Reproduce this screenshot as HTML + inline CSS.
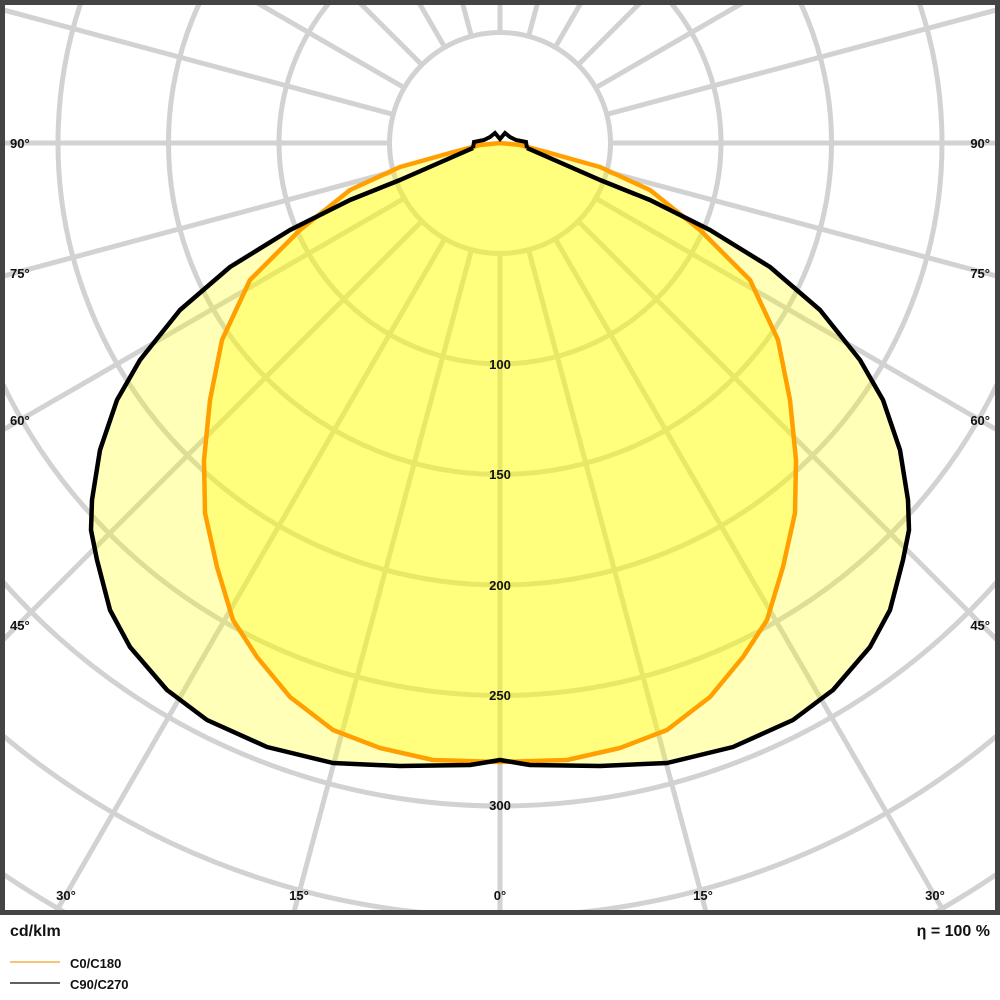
<!DOCTYPE html>
<html><head><meta charset="utf-8"><style>
html,body{margin:0;padding:0;background:#fff;width:1000px;height:1000px;overflow:hidden;}
svg{display:block;}
text{font-family:"Liberation Sans",Arial,sans-serif;font-weight:bold;fill:#111;}
</style></head><body>
<svg width="1000" height="1000" viewBox="0 0 1000 1000" xmlns="http://www.w3.org/2000/svg">
<defs><clipPath id="c"><rect x="5" y="5" width="990" height="905"/></clipPath></defs>
<rect x="0" y="0" width="1000" height="1000" fill="#fff"/>
<g clip-path="url(#c)">
 <g fill="none" stroke="#d2d2d2" stroke-width="5">
  <circle cx="500" cy="143" r="110.5"/>
  <circle cx="500" cy="143" r="221"/>
  <circle cx="500" cy="143" r="331.5"/>
  <circle cx="500" cy="143" r="442"/>
  <circle cx="500" cy="143" r="552.5"/>
  <circle cx="500" cy="143" r="663"/>
  <circle cx="500" cy="143" r="773.5"/>
  <circle cx="500" cy="143" r="884"/>
  <circle cx="500" cy="143" r="994.5"/>
 </g>
 <g stroke="#d2d2d2" stroke-width="5">
  <line x1="500" y1="253.5" x2="500" y2="1643"/>
  <line x1="500" y1="32.5" x2="500" y2="-1357"/>
  <line x1="610.5" y1="143" x2="2000" y2="143"/>
  <line x1="389.5" y1="143" x2="-1000" y2="143"/>
  <line x1="528.6" y1="249.7" x2="888.2" y2="1591.9"/>
  <line x1="471.4" y1="249.7" x2="111.8" y2="1591.9"/>
  <line x1="528.6" y1="36.3" x2="888.2" y2="-1305.9"/>
  <line x1="471.4" y1="36.3" x2="111.8" y2="-1305.9"/>
  <line x1="555.25" y1="238.7" x2="1250" y2="1442"/>
  <line x1="444.75" y1="238.7" x2="-250" y2="1442"/>
  <line x1="555.25" y1="47.3" x2="1250" y2="-1156"/>
  <line x1="444.75" y1="47.3" x2="-250" y2="-1156"/>
  <line x1="578.1" y1="221.1" x2="1560.7" y2="1203.7"/>
  <line x1="421.9" y1="221.1" x2="-560.7" y2="1203.7"/>
  <line x1="578.1" y1="64.9" x2="1560.7" y2="-917.7"/>
  <line x1="421.9" y1="64.9" x2="-560.7" y2="-917.7"/>
  <line x1="595.7" y1="198.25" x2="1799" y2="893"/>
  <line x1="404.3" y1="198.25" x2="-799" y2="893"/>
  <line x1="595.7" y1="87.75" x2="1799" y2="-607"/>
  <line x1="404.3" y1="87.75" x2="-799" y2="-607"/>
  <line x1="606.7" y1="171.6" x2="1948.9" y2="531.2"/>
  <line x1="393.3" y1="171.6" x2="-948.9" y2="531.2"/>
  <line x1="606.7" y1="114.4" x2="1948.9" y2="-245.2"/>
  <line x1="393.3" y1="114.4" x2="-948.9" y2="-245.2"/>
 </g>
 <polygon fill="#ffff00" fill-opacity="0.28" stroke="none" points="500,143 473,148 400,180 350,200 290,230 230,267 180,310 140,360 117,400 100,450 92,500 91,530 97,560 110,610 130,647 167,690 207,720 267,747 333,763 400,766 470,765 500,760 530,765 600,766 667,763 733,747 793,720 833,690 870,647 890,610 903,560 909,530 908,500 900,450 883,400 860,360 820,310 770,267 710,230 650,200 600,180 527,148"/>
 <polygon fill="#ffff00" fill-opacity="0.32" stroke="none" points="500,143 480,145 450,153 400,167 350,190 300,230 250,280 222,340 210,400 204,460 205,513 217,567 233,620 257,657 290,697 333,730 380,748 433,760 500,762 567,760 620,748 667,730 710,697 743,657 767,620 783,567 795,513 796,460 790,400 778,340 750,280 700,230 650,190 600,167 550,153 520,145"/>
 <polyline fill="none" stroke="#ffa000" stroke-width="4.5" stroke-linejoin="round" points="500,143 480,145 450,153 400,167 350,190 300,230 250,280 222,340 210,400 204,460 205,513 217,567 233,620 257,657 290,697 333,730 380,748 433,760 500,762 567,760 620,748 667,730 710,697 743,657 767,620 783,567 795,513 796,460 790,400 778,340 750,280 700,230 650,190 600,167 550,153 520,145 500,143"/>
 <polyline fill="none" stroke="#000" stroke-width="4.5" stroke-linejoin="round" points="473,148 400,180 350,200 290,230 230,267 180,310 140,360 117,400 100,450 92,500 91,530 97,560 110,610 130,647 167,690 207,720 267,747 333,763 400,766 470,765 500,760 530,765 600,766 667,763 733,747 793,720 833,690 870,647 890,610 903,560 909,530 908,500 900,450 883,400 860,360 820,310 770,267 710,230 650,200 600,180 527,148"/>
 <path d="M473,148 L474,142 L484,140 L490,137 L495,133 L500,139 L505,133 L510,137 L516,140 L526,142 L527,148" fill="none" stroke="#000" stroke-width="4"/>
 <g font-size="13">
  <text x="10" y="148">90°</text><text x="990" y="148" text-anchor="end">90°</text>
  <text x="10" y="278">75°</text><text x="990" y="278" text-anchor="end">75°</text>
  <text x="10" y="425">60°</text><text x="990" y="425" text-anchor="end">60°</text>
  <text x="10" y="630">45°</text><text x="990" y="630" text-anchor="end">45°</text>
  <text x="66" y="900" text-anchor="middle">30°</text>
  <text x="299" y="900" text-anchor="middle">15°</text>
  <text x="500" y="900" text-anchor="middle">0°</text>
  <text x="703" y="900" text-anchor="middle">15°</text>
  <text x="935" y="900" text-anchor="middle">30°</text>
  <text x="500" y="369" text-anchor="middle">100</text>
  <text x="500" y="479" text-anchor="middle">150</text>
  <text x="500" y="590" text-anchor="middle">200</text>
  <text x="500" y="700" text-anchor="middle">250</text>
  <text x="500" y="810" text-anchor="middle">300</text>
 </g>
</g>
<rect x="2.5" y="2.5" width="995" height="910" fill="none" stroke="#444" stroke-width="5"/>
<text x="10" y="936" font-size="16">cd/klm</text>
<text x="990" y="936" font-size="16" text-anchor="end">η = 100 %</text>
<line x1="10" y1="962" x2="60" y2="962" stroke="#f0a020" stroke-width="1.2"/>
<line x1="10" y1="983" x2="60" y2="983" stroke="#000" stroke-width="1.2"/>
<text x="70" y="968" font-size="13">C0/C180</text>
<text x="70" y="989" font-size="13">C90/C270</text>
</svg>
</body></html>
